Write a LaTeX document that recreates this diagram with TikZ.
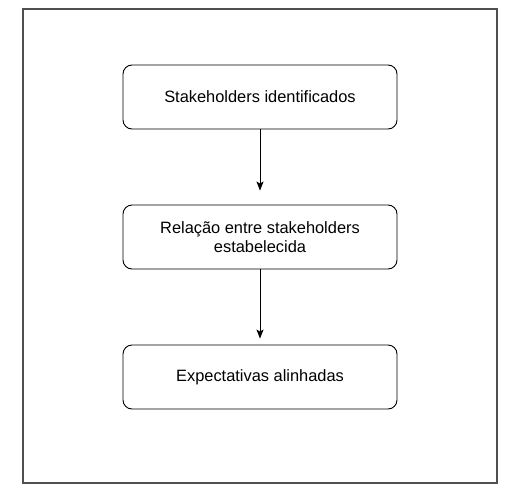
\documentclass[tikz,border=0pt]{standalone}
\usepackage{fontspec}
\setmainfont{Liberation Sans}
\usetikzlibrary{arrows.meta}
\definecolor{frame}{RGB}{80,80,80}

\begin{document}
\begin{tikzpicture}[
  x=1pt,y=-1pt,
  >={Stealth[length=9pt,width=7pt,inset=2pt]},
  stage/.style={rectangle,rounded corners=9pt,draw=black,line width=0.9pt,fill=white,
    minimum width=274pt,minimum height=64pt,align=center,font=\fontsize{16.4}{19.5}\selectfont,inner sep=2pt},
  flow/.style={->,line width=0.9pt,black}
]
\useasboundingbox (0,0) rectangle (524,495);
% ================= outer frame =================
\draw[frame,line width=1.1pt] (23,9) rectangle (497,483);
% ================= stages =================
\node[stage] (ident) at (260,97) {Stakeholders identificados};
\node[stage] (relac) at (260,237) {Relação entre stakeholders\\estabelecida};
\node[stage] (expec) at (260,377) {Expectativas alinhadas};
\draw[flow] (ident.south) -- ([yshift=14pt]relac.north);
\draw[flow] (relac.south) -- ([yshift=6pt]expec.north);
\end{tikzpicture}
\end{document}
